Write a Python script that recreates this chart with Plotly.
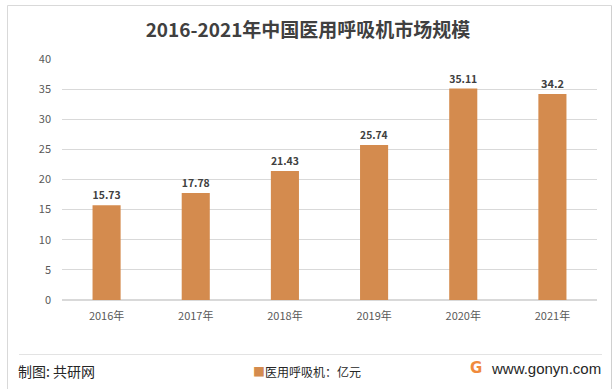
import plotly.graph_objects as go

years = ["2016年", "2017年", "2018年", "2019年", "2020年", "2021年"]
values = [15.73, 17.78, 21.43, 25.74, 35.11, 34.2]
labels = ["15.73", "17.78", "21.43", "25.74", "35.11", "34.2"]
y_ticks = [0, 5, 10, 15, 20, 25, 30, 35, 40]

BAR = "#D48B4E"
FONT = "Noto Sans CJK SC"

W, H = 616, 390
L, R, T, B = 62, 19, 59, 90

fig = go.Figure()
fig.add_trace(go.Bar(
    x=years, y=values, text=labels, textposition="outside",
    textfont=dict(family=FONT, size=11, color="#404040", weight="bold"),
    marker=dict(color=BAR, line=dict(width=0)),
    width=0.315, cliponaxis=False, showlegend=False, hoverinfo="skip",
))

def px_x(p):
    return (p - L) / (W - L - R)

def px_y(p):
    return (H - B - p) / (H - T - B)

fig.update_layout(
    width=W, height=H,
    margin=dict(l=L, r=R, t=T, b=B),
    paper_bgcolor="white", plot_bgcolor="white",
    font=dict(family=FONT, color="#595959", size=11),
    title=dict(text="<b>2016-2021年中国医用呼吸机市场规模</b>", x=0.5, xref="container",
               y=1 - 30 / H, yanchor="middle",
               font=dict(family=FONT, size=19, color="#404040")),
    xaxis=dict(showgrid=False, showline=False, ticks="",
               tickfont=dict(family=FONT, size=11, color="#595959"),
               ticklabelstandoff=8),
    yaxis=dict(range=[0, 40], tickvals=y_ticks, showgrid=True, gridcolor="#D9D9D9",
               gridwidth=1, zeroline=True, zerolinecolor="#D9D9D9", showline=False,
               tickfont=dict(family=FONT, size=11, color="#595959"),
               ticklabelstandoff=10),
    shapes=[
        dict(type="line", xref="paper", yref="paper",
             x0=px_x(7.5), x1=px_x(7.5), y0=px_y(389), y1=px_y(5.5),
             line=dict(color="#D9D9D9", width=1), layer="above"),
        dict(type="line", xref="paper", yref="paper",
             x0=px_x(7.5), x1=px_x(611.5), y0=px_y(5.5), y1=px_y(5.5),
             line=dict(color="#D9D9D9", width=1), layer="above"),
        dict(type="line", xref="paper", yref="paper",
             x0=px_x(611.5), x1=px_x(611.5), y0=px_y(389), y1=px_y(5.5),
             line=dict(color="#D0D0D0", width=1), layer="above"),
        dict(type="line", xref="paper", yref="paper",
             x0=px_x(19), x1=px_x(602), y0=px_y(354.5), y1=px_y(354.5),
             line=dict(color="#E3E3E3", width=1)),
    ],
    annotations=[
        dict(text="制图: 共研网", xref="paper", yref="paper", x=px_x(16), y=px_y(371),
             xanchor="left", yanchor="middle", showarrow=False,
             font=dict(family=FONT, size=14, color="#262626")),
        dict(text="<span style='color:%s'>■</span>医用呼吸机：亿元" % BAR,
             xref="paper", yref="paper", x=px_x(251), y=px_y(371),
             xanchor="left", yanchor="middle", showarrow=False,
             font=dict(family=FONT, size=12, color="#262626")),
        dict(text="<b>G</b>", xref="paper", yref="paper", x=px_x(476), y=px_y(368),
             xanchor="center", yanchor="middle", showarrow=False,
             font=dict(family="DejaVu Sans", size=15, color="#F08A3C")),
        dict(text="www.gonyn.com", xref="paper", yref="paper", x=px_x(603), y=px_y(368),
             xanchor="right", yanchor="middle", showarrow=False,
             font=dict(family="Liberation Sans", size=15, color="#262626")),
    ],
)

fig.write_html("out.html", config={"displayModeBar": False},
               post_script="document.body.style.margin='0';document.body.style.overflow='hidden';")
